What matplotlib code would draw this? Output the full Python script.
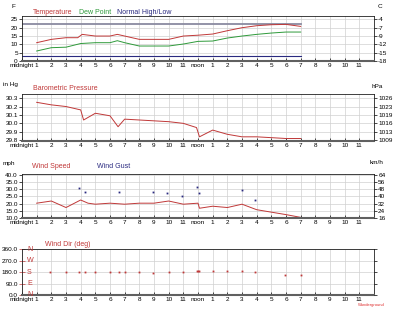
import matplotlib.pyplot as plt
import numpy as np

plt.rcParams['font.family'] = ['Liberation Sans', 'DejaVu Sans']

# x axis (hours of the day)
hour_ticks = list(range(24))
hour_labels = ['midnight'] + [str(h) for h in range(1, 12)] + ['noon'] + [str(h) for h in range(1, 12)]

# temperature panel (F)
temp_hours = [1, 2, 3, 3.8, 4.1, 5, 6, 6.5, 7, 8, 9, 10, 11, 12, 13, 14, 15, 16, 17, 18, 19]
temp = [11, 13, 14, 14, 16, 15, 15, 16, 15, 13, 13, 13, 15, 15.5, 16.2, 18.2, 20, 21.2, 21.8, 22, 20.8]
dew_hours = [1, 2, 3, 4, 5, 6, 6.5, 7, 8, 9, 10, 11, 12, 13, 14, 15, 16, 17, 18, 19]
dew = [6, 8, 8.3, 10.5, 11, 11, 12.2, 11, 9, 9, 9, 10.2, 11.8, 12, 13.8, 15, 16, 16.8, 17.4, 17.4]
normal_hours = [0, 19]
normal_high = [22, 22]
normal_low = [3, 3]
temp_ticks = [0, 5, 10, 15, 20, 25]
temp_c_labels = ['-18', '-15', '-12', '-9', '-7', '-4']

# pressure panel (in Hg)
p_hours = [1, 2, 3, 4, 4.2, 5, 6, 6.55, 7, 8, 9, 10, 11, 11.9, 12.1, 13, 14, 15, 16, 17, 18, 19]
pressure = [30.25, 30.22, 30.20, 30.16, 30.04, 30.12, 30.09, 29.96, 30.05, 30.04, 30.03, 30.02,
            30.0, 29.95, 29.84, 29.92, 29.87, 29.84, 29.84, 29.83, 29.82, 29.82]
p_ticks = [29.8, 29.9, 30.0, 30.1, 30.2, 30.3]
p_hpa_labels = ['1009', '1013', '1016', '1019', '1023', '1026']

# wind panel (mph)
w_hours = [1, 2, 3, 4, 4.5, 5, 6, 7, 8, 9, 10, 11, 12, 12.1, 13, 14, 15, 16, 17, 18, 19]
wind = [20.3, 21.8, 17.3, 22.5, 20.3, 19.6, 20.3, 19.6, 20.3, 20.3, 21.8, 19.6, 20.3, 16.8,
        18.2, 17.3, 19.6, 15.8, 14.1, 12.4, 10.5]
gust_hours = [3.9, 4.3, 6.6, 8.9, 9.9, 10.9, 11.9, 12.05, 15, 15.9]
gust = [30.6, 28.2, 28.2, 28.2, 27, 25.1, 31.6, 27, 29.7, 22.7]
w_ticks = [10, 15, 20, 25, 30, 35, 40]
w_kmh_labels = ['16', '24', '32', '40', '48', '56', '64']

# wind direction panel (deg)
dir_hours = [1.9, 3, 3.9, 4.3, 5, 6, 6.6, 7, 8, 8.9, 10, 11, 11.9, 12, 12.1, 13, 14, 15, 15.9, 17.9, 19]
wind_dir = [181, 181, 181, 181, 181, 181, 181, 181, 181, 173, 181, 181, 187, 187, 187, 187, 187,
            187, 178, 160, 160]
dir_ticks = [0, 90, 180, 270, 360]
dir_names = ['N', 'E', 'S', 'W', 'N']

RED = '#c03838'
GREEN = '#2e9a3a'
NAVY = '#2a2a80'
FS = 4.6

fig = plt.figure(figsize=(4.0, 3.12), dpi=100)


def make_axes(rect, ylim, yticks, ylabels, rlabels):
    ax = fig.add_axes(rect)
    ax.set_xlim(0, 24)
    ax.set_ylim(*ylim)
    ax.set_xticks(hour_ticks)
    ax.set_xticklabels(hour_labels, fontsize=FS)
    ax.set_yticks(yticks)
    ax.set_yticklabels(ylabels, fontsize=FS)
    ax.grid(True, color='#d0d0d0', linewidth=0.5)
    ax.set_axisbelow(True)
    ax.tick_params(axis='x', direction='in', length=2, width=0.5, pad=1.5)
    ax.tick_params(axis='y', length=2, width=0.5, pad=1)
    for s in ax.spines.values():
        s.set_linewidth(0.6)
        s.set_color('#202020')
    ax.spines['bottom'].set_linewidth(1.5)
    ax.spines['bottom'].set_color('#606060')
    ax2 = ax.twinx()
    ax2.set_ylim(*ylim)
    ax2.set_yticks(yticks)
    ax2.set_yticklabels(rlabels, fontsize=FS)
    ax2.tick_params(axis='y', length=2, width=0.5, pad=1)
    for s in ax2.spines.values():
        s.set_visible(False)
    return ax


# --- temperature ---
ax1 = make_axes([0.055, 0.8045, 0.88, 0.144], (0, 27), temp_ticks,
                [str(t) for t in temp_ticks], temp_c_labels)
ax1.plot(normal_hours, normal_high, color='#8a8aa0', lw=1.3)
ax1.plot(normal_hours, normal_low, color=NAVY, lw=0.8)
ax1.plot(dew_hours, dew, color=GREEN, lw=0.7)
ax1.plot(temp_hours, temp, color=RED, lw=0.7)

# --- pressure ---
ax2 = make_axes([0.055, 0.548, 0.88, 0.151], (29.79, 30.35), p_ticks,
                ['%.1f' % p for p in p_ticks], p_hpa_labels)
ax2.plot(p_hours, pressure, color=RED, lw=0.7)

# --- wind ---
ax3 = make_axes([0.055, 0.301, 0.88, 0.141], (10, 40.4), w_ticks,
                ['%.1f' % w for w in w_ticks], w_kmh_labels)
ax3.plot(w_hours, wind, color=RED, lw=0.7)
ax3.plot(gust_hours, gust, 's', color=NAVY, ms=1.3, mew=0)

# --- wind direction ---
ax4 = make_axes([0.055, 0.0545, 0.88, 0.147], (0, 362), dir_ticks,
                ['%.1f' % d for d in dir_ticks], ['', '', '', '', ''])
ax4.plot(dir_hours, wind_dir, 's', color=RED, ms=1.3, mew=0)
ax4.tick_params(axis='y', direction='inout', length=4, color=RED)
for d, n in zip(dir_ticks, dir_names):
    ax4.text(0.35, d, n, color=RED, fontsize=FS + 0.5, va='center', ha='left')

# titles / units
fig.text(33 / 400, 1 - 12 / 312, 'Temperature', color=RED, fontsize=5, va='center')
fig.text(79 / 400, 1 - 12 / 312, 'Dew Point', color=GREEN, fontsize=5, va='center')
fig.text(117 / 400, 1 - 12 / 312, 'Normal High/Low', color=NAVY, fontsize=5, va='center')
fig.text(33 / 400, 1 - 89 / 312, 'Barometric Pressure', color=RED, fontsize=5, va='center')
fig.text(32 / 400, 1 - 167 / 312, 'Wind Speed', color=RED, fontsize=5, va='center')
fig.text(97 / 400, 1 - 167 / 312, 'Wind Gust', color=NAVY, fontsize=5, va='center')
fig.text(45 / 400, 1 - 244 / 312, 'Wind Dir (deg)', color=RED, fontsize=5, va='center')

fig.text(11 / 400, 1 - 6 / 312, 'F', fontsize=FS, va='center')
fig.text(378 / 400, 1 - 6 / 312, 'C', fontsize=FS, va='center')
fig.text(3 / 400, 1 - 85 / 312, 'in Hg', fontsize=FS, va='center')
fig.text(372 / 400, 1 - 86 / 312, 'hPa', fontsize=FS, va='center')
fig.text(3 / 400, 1 - 163 / 312, 'mph', fontsize=FS, va='center')
fig.text(370 / 400, 1 - 163 / 312, 'km/h', fontsize=FS, va='center')
fig.text(358 / 400, 1 - 305 / 312, 'Wunderground', color='#e03030', fontsize=3, va='center')

fig.savefig('out.png', dpi=100, facecolor='white')
